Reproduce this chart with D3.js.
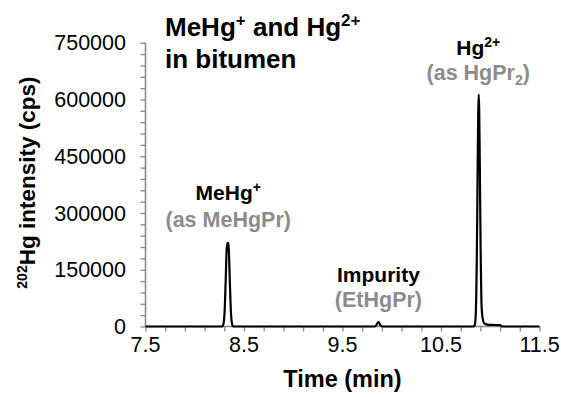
<!DOCTYPE html>
<html><head><meta charset="utf-8">
<script src="https://cdn.jsdelivr.net/npm/d3@7"></script>
<style>body{margin:0;background:#fff}svg{display:block}text{font-family:"Liberation Sans",Arial,sans-serif}</style>
</head><body><div id="c"></div>
<script>
// Chromatogram trace (time in min, 202Hg intensity in cps)
const time = [7.5, 8.27, 8.285, 8.295, 8.305, 8.315, 8.325, 8.335, 8.34, 8.345, 8.355, 8.365, 8.375, 8.385, 8.395, 8.41,
  9.825, 9.845, 9.855, 9.865, 9.875, 9.885, 9.905,
  10.83, 10.843, 10.848, 10.853, 10.858, 10.863, 10.868, 10.873, 10.878, 10.883, 10.888, 10.893, 10.898, 10.903, 10.908, 10.913, 10.923, 10.94, 10.98, 11.05, 11.10, 11.12, 11.5];
const intensity = [0, 0, 1800, 12000, 50000, 129500, 208000, 221000, 221000, 208000, 129500, 50000, 12000, 1800, 0, 0,
  0, 4000, 9000, 11500, 8000, 3500, 0,
  0, 4000, 12000, 34000, 83000, 170000, 298000, 445000, 566000, 613000, 570000, 455000, 315000, 190000, 100000, 48000, 22000, 8000, 4500, 4000, 3500, 0, 0];
const xTicks = [7.5, 8.5, 9.5, 10.5, 11.5];
const yTicks = [0, 150000, 300000, 450000, 600000, 750000];
const xMinorStep = 0.2, yMinorStep = 30000;
const titleLines = [["MeHg", "+", " and Hg", "2+"], ["in bitumen"]];
const peakLabels = [
  {t: 8.34, name: "MeHg", sup: "+", detail: "(as MeHgPr)", level: 1},
  {t: 9.865, name: "Impurity", sup: null, detail: "(EtHgPr)", level: 2},
  {t: 10.878, name: "Hg", sup: "2+", detail: "(as HgPr", detailSub: "2", detailEnd: ")", level: 0}
];

const W = 561, H = 397;
const svg = d3.select("#c").append("svg").attr("width", W).attr("height", H);
const x = d3.scaleLinear().domain([7.5, 11.5]).range([145.5, 539.5]);
const y = d3.scaleLinear().domain([0, 750000]).range([326.5, 42.7]);
const axisGrey = "#8a8a8a";

const yMinor = d3.range(0, 750001, yMinorStep);
const xMinor = d3.range(0, 21).map(i => 7.5 + i * xMinorStep);

const yAxis = svg.append("g").attr("transform", `translate(${x(7.5)},0)`)
  .call(d3.axisLeft(y).tickValues(yMinor).tickSize(5).tickFormat(""));
const xAxis = svg.append("g").attr("transform", `translate(0,${y(0)})`)
  .call(d3.axisBottom(x).tickValues(xMinor).tickSize(5).tickFormat(""));
[yAxis, xAxis].forEach(g => {
  g.select(".domain").attr("stroke", axisGrey).attr("stroke-width", 1.6);
  g.selectAll(".tick line").attr("stroke", axisGrey).attr("stroke-width", 1.3);
});
yAxis.select(".domain").attr("d", `M0,${y(0)}V${y(750000)}`);
xAxis.select(".domain").attr("d", `M${x(7.5)},0H${x(11.5)}`);

svg.append("g").selectAll("text").data(yTicks).join("text")
  .attr("x", 126).attr("y", d => y(d)).attr("dy", "0.36em")
  .attr("text-anchor", "end").attr("font-size", 21.5).attr("fill", "#000").text(d => d);
svg.append("g").selectAll("text").data(xTicks).join("text")
  .attr("x", d => x(d)).attr("y", 352).attr("text-anchor", "middle")
  .attr("font-size", 21.5).attr("fill", "#000").text(d => d.toFixed(1));

const pts = time.map((t, i) => [t, intensity[i]]);
svg.append("path").datum(pts)
  .attr("d", d3.line().x(d => x(d[0])).y(d => y(d[1])).curve(d3.curveMonotoneX))
  .attr("fill", "none").attr("stroke", "#000").attr("stroke-width", 2.2).attr("stroke-linejoin", "round");

svg.append("text").attr("x", (x(7.5) + x(11.5)) / 2).attr("y", 387).attr("text-anchor", "middle")
  .attr("font-size", 23.5).attr("font-weight", "bold").text("Time (min)");
const yl = svg.append("text").attr("transform", `translate(35,${(y(0) + y(750000)) / 2 - 2}) rotate(-90)`)
  .attr("text-anchor", "middle").attr("font-size", 22.5).attr("font-weight", "bold");
yl.append("tspan").attr("font-size", 14).attr("dy", -8).text("202");
yl.append("tspan").attr("dy", 8).text("Hg intensity (cps)");

const title = svg.append("text").attr("font-size", 26).attr("font-weight", "bold");
const tl1 = title.append("tspan").attr("x", 165).attr("y", 36);
tl1.append("tspan").text(titleLines[0][0]);
tl1.append("tspan").attr("font-size", 17).attr("dy", -10).text(titleLines[0][1]);
tl1.append("tspan").attr("dy", 10).text(titleLines[0][2]);
tl1.append("tspan").attr("font-size", 17).attr("dy", -10).text(titleLines[0][3]);
title.append("tspan").attr("x", 165).attr("y", 68).text(titleLines[1][0]);

const nameY = [55, 200, 281.7], detY = [80, 226.7, 306.7];
peakLabels.forEach(p => {
  const t1 = svg.append("text").attr("x", x(p.t)).attr("y", nameY[p.level])
    .attr("text-anchor", "middle").attr("font-size", 21).attr("font-weight", "bold").attr("fill", "#000");
  t1.append("tspan").text(p.name);
  if (p.sup) t1.append("tspan").attr("font-size", 14).attr("dy", -8).text(p.sup);
  const t2 = svg.append("text").attr("x", x(p.t)).attr("y", detY[p.level])
    .attr("text-anchor", "middle").attr("font-size", 21.5).attr("font-weight", "bold").attr("fill", "#8c8c8c");
  t2.append("tspan").text(p.detail);
  if (p.detailSub) {
    t2.append("tspan").attr("font-size", 14).attr("dy", 5).text(p.detailSub);
    t2.append("tspan").attr("dy", -5).text(p.detailEnd);
  }
});
</script></body></html>
